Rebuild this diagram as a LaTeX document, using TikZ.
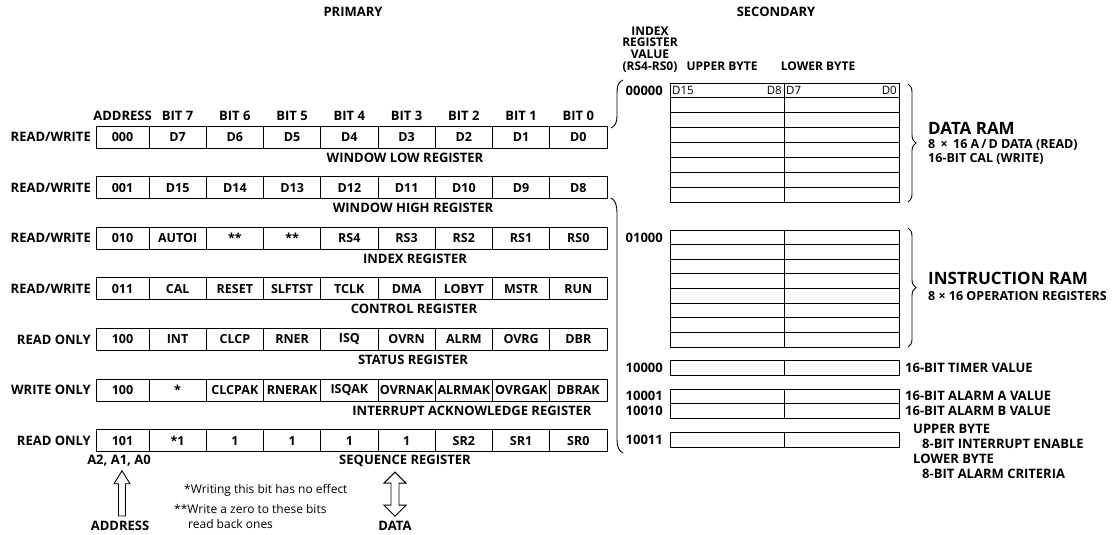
\documentclass[tikz,border=0pt]{standalone}
\usepackage{fontspec}
\setmainfont{Open Sans}
\usetikzlibrary{calc, decorations.pathreplacing}

\begin{document}
\begin{tikzpicture}[
    x=1pt, y=-1pt,
    box/.style={draw, line width=0.9pt, minimum height=22pt, inner sep=0pt,
                font=\fontsize{12.5}{14}\selectfont\bfseries},
    lbl/.style={inner sep=0pt, font=\fontsize{13}{14}\selectfont\bfseries},
    small/.style={inner sep=0pt, font=\fontsize{12.5}{13}\selectfont\bfseries},
    big/.style={inner sep=0pt, anchor=west, font=\fontsize{17}{18}\selectfont\bfseries},
    note/.style={inner sep=0pt, anchor=west, font=\fontsize{12}{14}\selectfont},
    grid/.style={line width=0.8pt},
    rbrace/.style={decorate, decoration={brace, amplitude=8pt}, line width=0.9pt},
    hollow/.style={draw, line width=0.9pt, line join=miter}
  ]
  \fill[white] (0,0) rectangle (1120,535);
  \useasboundingbox (0,0) rectangle (1120,535);

  % headings
  \node[lbl] (primary) at (353,12) {PRIMARY};
  \node[lbl] (secondary) at (776,12) {SECONDARY};

  % primary registers
  \node[lbl] (hAddr) at (122.5,116) {ADDRESS};
  \foreach \c in {1,...,8} {
    \pgfmathtruncatemacro\bit{8-\c}
    \node[lbl] (hBit\bit) at (149+57.25*\c-28.625,116) {BIT \bit};
  }
  \foreach \r/\yy/\mode/\addr/\bits/\name/\nx in {
      1/137/{READ/WRITE}/000/{D7,D6,D5,D4,D3,D2,D1,D0}/WINDOW LOW REGISTER/405,
      2/187.6/{READ/WRITE}/001/{D15,D14,D13,D12,D11,D10,D9,D8}/WINDOW HIGH REGISTER/413,
      3/238.2/{READ/WRITE}/010/{AUTOI,**,**,RS4,RS3,RS2,RS1,RS0}/INDEX REGISTER/415,
      4/288.8/{READ/WRITE}/011/{CAL,RESET,SLFTST,TCLK,DMA,LOBYT,MSTR,RUN}/CONTROL REGISTER/414,
      5/339.4/READ ONLY/100/{INT,CLCP,RNER,ISQ,OVRN,ALRM,OVRG,DBR}/STATUS REGISTER/413,
      6/390/WRITE ONLY/100/{*,CLCPAK,RNERAK,ISQAK,OVRNAK,ALRMAK,OVRGAK,DBRAK}/INTERRUPT ACKNOWLEDGE REGISTER/472,
      7/440.6/READ ONLY/101/{*1,1,1,1,1,SR2,SR1,SR0}/SEQUENCE REGISTER/405} {
    \node[lbl, anchor=east] (mode\r) at (91,\yy) {\mode};
    \node[box, minimum width=53pt] (r\r-a) at (122.5,\yy) {\addr};
    \foreach \b [count=\c] in \bits
      \node[box, minimum width=57.25pt] (r\r-\c) at (149+57.25*\c-28.625,\yy) {\b};
    \node[lbl] (reg\r) at (\nx,\yy+20.5) {\name};
  }

  % secondary registers
  \node[lbl, align=center, font=\fontsize{12}{11.7}\selectfont\bfseries] (idxHead)
    at (650,49.5) {INDEX\\REGISTER\\VALUE\\(RS4-RS0)};
  \node[lbl, font=\fontsize{12}{13}\selectfont\bfseries] (upperHead) at (722,66) {UPPER BYTE};
  \node[lbl, font=\fontsize{12}{13}\selectfont\bfseries] (lowerHead) at (818,66) {LOWER BYTE};

  \draw[grid] (670,83) rectangle (899,202);
  \foreach \i in {1,...,7}
    \draw[grid] (670,83+14.875*\i) -- (899,83+14.875*\i);
  \draw[grid] (784,83) -- (784,202);
  \node[lbl, anchor=east] (adr00000) at (663,90.5) {00000};
  \node[small, anchor=west, font=\fontsize{11.5}{12}\selectfont] (d15) at (672,90.5) {D15};
  \node[small, anchor=east, font=\fontsize{11.5}{12}\selectfont] (d8) at (782,90.5) {D8};
  \node[small, anchor=west, font=\fontsize{11.5}{12}\selectfont] (d7) at (786,90.5) {D7};
  \node[small, anchor=east, font=\fontsize{11.5}{12}\selectfont] (d0) at (897,90.5) {D0};

  \draw[grid] (670,230) rectangle (899,347);
  \foreach \i in {1,...,7}
    \draw[grid] (670,230+14.625*\i) -- (899,230+14.625*\i);
  \draw[grid] (784,230) -- (784,347);
  \node[lbl, anchor=east] (adr01000) at (663,237.5) {01000};

  \draw[grid] (670,360) rectangle (899,375);
  \draw[grid] (784,360) -- (784,375);
  \node[lbl, anchor=east] (adr10000) at (663,367.5) {10000};

  \draw[grid] (670,389) rectangle (899,418);
  \draw[grid] (670,403.5) -- (899,403.5);
  \draw[grid] (784,389) -- (784,418);
  \node[lbl, anchor=east] (adr10001) at (663,396) {10001};
  \node[lbl, anchor=east] (adr10010) at (663,411) {10010};

  \draw[grid] (670,432) rectangle (899,447);
  \draw[grid] (784,432) -- (784,447);
  \node[lbl, anchor=east] (adr10011) at (663,439.5) {10011};

  \node[lbl, anchor=west] (timerTxt) at (905,367.5) {16-BIT TIMER VALUE};
  \node[lbl, anchor=west] (alarmA) at (905,396) {16-BIT ALARM A VALUE};
  \node[lbl, anchor=west] (alarmB) at (905,411) {16-BIT ALARM B VALUE};
  \node[lbl, anchor=west] (upperTxt) at (913,429) {UPPER BYTE};
  \node[lbl, anchor=west] (intEnable) at (922,444) {8-BIT INTERRUPT ENABLE};
  \node[lbl, anchor=west] (lowerTxt) at (913,459) {LOWER BYTE};
  \node[lbl, anchor=west] (alarmCrit) at (922,474) {8-BIT ALARM CRITERIA};

  % RAM braces
  \draw[rbrace] (908,84) -- (908,202);
  \draw[rbrace] (908,228) -- (908,347);
  \node[big] (dataRam) at (928,128) {DATA RAM};
  \node[small, anchor=west] (dataRead) at (928,145) {8 \,×\, 16 A\,/\,D DATA (READ)};
  \node[small, anchor=west] (calWrite) at (928,159) {16-BIT CAL (WRITE)};
  \node[big] (instrRam) at (928,278) {INSTRUCTION RAM};
  \node[small, anchor=west] (opRegs) at (928,296) {8 × 16 OPERATION REGISTERS};

  % bracket between primary and secondary
  \draw[line width=0.9pt] (623,80) .. controls (617,82) and (617,88) .. (617,96)
    -- (617,116) .. controls (617,123) and (615,126) .. (611,128);
  \draw[line width=0.9pt] (611,198) .. controls (615,200) and (617,205) .. (617,212)
    -- (617,440) .. controls (617,447) and (619,451) .. (623,453);

  % bus arrows and notes
  \node[lbl] (a210) at (119,461) {A2, A1, A0};
  \node[lbl] (addrLbl) at (120,526) {ADDRESS};
  \node[lbl] (dataLbl) at (395,526) {DATA};
  \node[note] (note1) at (184,490) {*Writing this bit has no effect};
  \node[note] (note2) at (174,509) {**Write a zero to these bits};
  \node[note] (note3) at (188,524) {read back ones};

  \draw[hollow] let \p1=($(a210.south)+(3,4)$), \p2=($(addrLbl.north)+(2,-5)$) in
    (\x1-3.5pt,\y2) -- (\x1-3.5pt,\y1-13pt) -- (\x1-8pt,\y1-13pt) -- (\x1,\y1)
    -- (\x1+8pt,\y1-13pt) -- (\x1+3.5pt,\y1-13pt) -- (\x1+3.5pt,\y2) -- cycle;
  \draw[hollow] let \p1=($(dataLbl.north)+(0,-5)$), \p2=($(reg7.south)+(0,5)$) in
    (\x1,\y2) -- (\x1+11pt,\y2-11pt) -- (\x1+4pt,\y2-11pt) -- (\x1+4pt,\y1+11pt)
    -- (\x1+11pt,\y1+11pt) -- (\x1,\y1) -- (\x1-11pt,\y1+11pt) -- (\x1-4pt,\y1+11pt)
    -- (\x1-4pt,\y2-11pt) -- (\x1-11pt,\y2-11pt) -- cycle;
\end{tikzpicture}
\end{document}
